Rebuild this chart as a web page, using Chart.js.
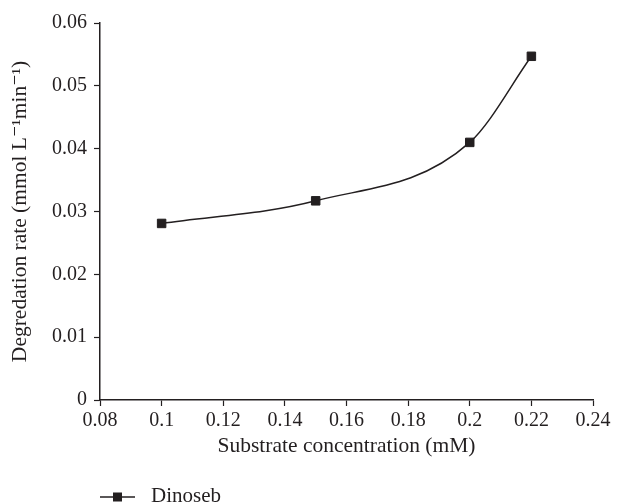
<!DOCTYPE html>
<html>
<head>
<meta charset="utf-8">
<script src="https://cdn.jsdelivr.net/npm/chart.js@4"></script>
<style>
  html, body { margin: 0; padding: 0; background: #fff; }
  #wrap { width: 617px; height: 504px; }
</style>
</head>
<body>
<div id="wrap"><canvas id="chart" width="617" height="504"></canvas></div>
<script>
// Substrate concentration (mM)
const concentrations = [0.1, 0.15, 0.2, 0.22];
// Degradation rate (mmol L-1 min-1)
const dinosebRates = [0.0281, 0.0317, 0.041, 0.0547];
const seriesName = "Dinoseb";

const xTitle = "Substrate concentration (mM)";
const yTitle = "Degredation rate (mmol L\u207B\u00B9min\u207B\u00B9)";

const ink = "#231f20";
const fontFamily = "'Liberation Serif', 'DejaVu Serif', serif";

// legend drawn under the x axis title, lined up with the y axis
const bottomLegend = {
  id: "bottomLegend",
  afterDraw(chart) {
    const ctx = chart.ctx;
    const left = chart.chartArea.left;
    const y = 497;
    ctx.save();
    ctx.strokeStyle = ink;
    ctx.lineWidth = 1.5;
    ctx.beginPath();
    ctx.moveTo(left, y);
    ctx.lineTo(left + 35, y);
    ctx.stroke();
    ctx.fillStyle = ink;
    ctx.fillRect(left + 13, y - 4.5, 9, 9);
    ctx.font = "21px " + fontFamily;
    ctx.textBaseline = "middle";
    ctx.fillText(seriesName, left + 51, y - 1);
    ctx.restore();
  },
};

const fmt = (v) => (v === 0 ? "0" : String(parseFloat(v.toFixed(2))));

new Chart(document.getElementById("chart"), {
  type: "line",
  data: {
    datasets: [
      {
        label: seriesName,
        data: concentrations.map((x, i) => ({ x: x, y: dinosebRates[i] })),
        borderColor: ink,
        backgroundColor: ink,
        borderWidth: 1.5,
        cubicInterpolationMode: "monotone",
        pointStyle: "rect",
        pointRadius: 6,
        pointBorderWidth: 1,
        pointBackgroundColor: ink,
        pointBorderColor: ink,
      },
    ],
  },
  options: {
    responsive: false,
    animation: false,
    layout: { padding: { top: 23, right: 24, left: 0, bottom: 45 } },
    plugins: {
      legend: { display: false },
      tooltip: { enabled: false },
    },
    scales: {
      x: {
        type: "linear",
        min: 0.08,
        max: 0.24,
        ticks: {
          stepSize: 0.02,
          color: ink,
          font: { family: fontFamily, size: 20 },
          padding: 3,
          maxRotation: 0,
          callback: (v) => fmt(v),
        },
        grid: {
          drawOnChartArea: false,
          color: ink,
          tickLength: 6,
          tickWidth: 1.2,
        },
        border: { color: ink, width: 1.5 },
        title: {
          display: true,
          text: xTitle,
          color: ink,
          font: { family: fontFamily, size: 21.5 },
          padding: { top: 0, bottom: 0 },
        },
        afterFit(scale) {
          scale.height = 59;
        },
      },
      y: {
        min: 0,
        max: 0.06,
        ticks: {
          stepSize: 0.01,
          color: ink,
          font: { family: fontFamily, size: 20 },
          padding: 7,
          callback: (v) => fmt(v),
        },
        grid: {
          drawOnChartArea: false,
          color: ink,
          tickLength: 6,
          tickWidth: 1.2,
        },
        border: { color: ink, width: 1.5 },
        title: {
          display: true,
          text: yTitle,
          color: ink,
          font: { family: fontFamily, size: 21.5 },
          padding: { top: 7, bottom: 0 },
        },
        afterFit(scale) {
          scale.width = 100;
        },
      },
    },
  },
  plugins: [bottomLegend],
});
</script>
</body>
</html>
